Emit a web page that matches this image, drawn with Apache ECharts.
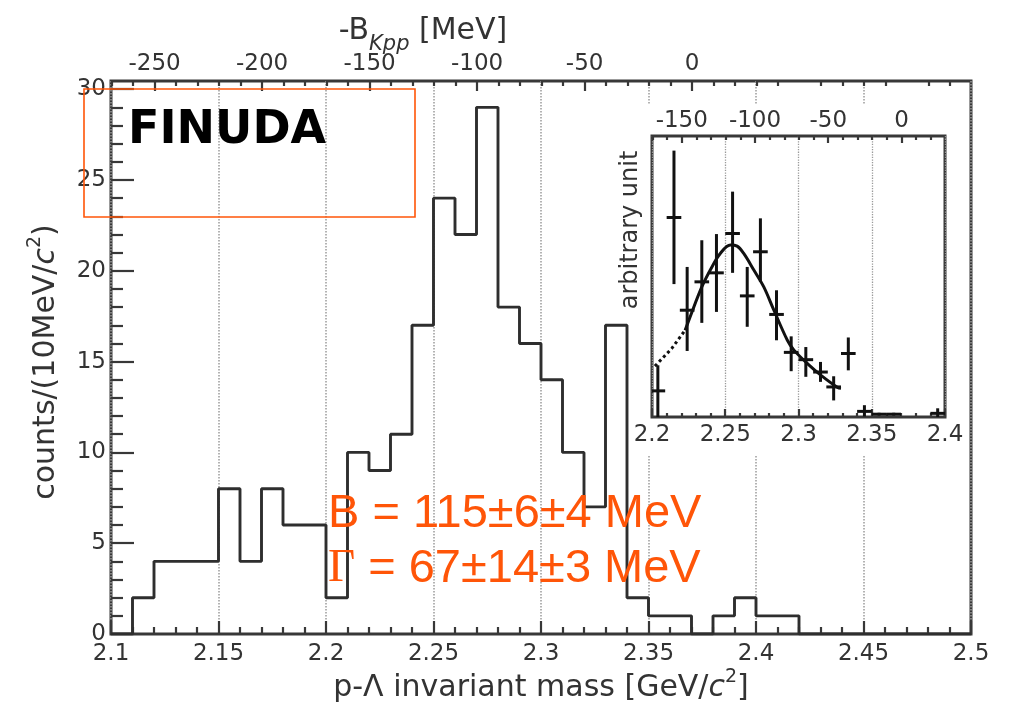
<!DOCTYPE html>
<html>
<head>
<meta charset="utf-8">
<title>FINUDA p-Λ invariant mass</title>
<script src="https://cdn.jsdelivr.net/npm/echarts@6/dist/echarts.min.js"></script>
<style>
  html, body { margin: 0; padding: 0; background: #fff; }
  #chart { width: 1009px; height: 707px; }
</style>
</head>
<body>
<div id="chart"></div>
<script>
// Main histogram: left bin edges (GeV/c^2) and counts per 10 MeV/c^2
const binLowEdges = [
  2.10, 2.11, 2.12, 2.13, 2.14, 2.15, 2.16, 2.17, 2.18, 2.19,
  2.20, 2.21, 2.22, 2.23, 2.24, 2.25, 2.26, 2.27, 2.28, 2.29,
  2.30, 2.31, 2.32, 2.33, 2.34, 2.35, 2.36, 2.37, 2.38, 2.39,
  2.40, 2.41, 2.42, 2.43, 2.44, 2.45, 2.46, 2.47, 2.48, 2.49
];
const binCounts = [
  0, 2, 4, 4, 4, 8, 4, 8, 6, 6,
  2, 10, 9, 11, 17, 24, 22, 29, 18, 16,
  14, 10, 7, 17, 2, 1, 1, 0, 1, 2,
  1, 1, 0, 0, 0, 0, 0, 0, 0, 0
];
const histUpperEdge = 2.50;

// Binding-energy scale: -B = M - (m_K + 2 m_p), threshold in GeV
const KPP_THRESHOLD = 2.3703;
const mainMeVMajor = [-250, -200, -150, -100, -50, 0];
const mainMeVMinor = [-270, -260, -240, -230, -220, -210, -190, -180, -170, -160,
  -140, -130, -120, -110, -90, -80, -70, -60, -40, -30, -20, -10,
  10, 20, 30, 40, 60, 70, 80, 90, 110, 120];
const insetMeVMajor = [-150, -100, -50, 0];
const insetMeVMinor = [-170, -160, -140, -130, -120, -110, -90, -80, -70, -60,
  -40, -30, -20, -10, 10, 20];

const countTicksMajor = [0, 5, 10, 15, 20, 25, 30];
const countTicksMinor = [1, 2, 3, 4, 6, 7, 8, 9, 11, 12, 13, 14, 16, 17, 18, 19,
  21, 22, 23, 24, 26, 27, 28, 29];

// Inset: data points (mass, value, lower error, upper error) in arbitrary units
const insetMass  = [2.204, 2.215, 2.224, 2.234, 2.244, 2.255, 2.265, 2.274, 2.285,
  2.295, 2.305, 2.315, 2.324, 2.334, 2.345, 2.355, 2.365, 2.395];
const insetValue = [9.3, 71.0, 38.0, 48.1, 51.3, 65.3, 43.1, 58.8, 36.5,
  23.0, 20.4, 16.0, 10.7, 22.6, 2.0, 1.0, 1.0, 1.3];
const insetLow   = [0.0, 47.3, 23.5, 33.5, 37.4, 51.3, 32.1, 48.1, 27.3,
  16.3, 14.3, 12.5, 5.9, 16.6, 0.2, 0.5, 0.5, 0.0];
const insetHigh  = [18.4, 94.8, 53.4, 62.9, 65.1, 80.2, 53.4, 70.7, 45.1,
  28.7, 24.9, 19.6, 14.5, 28.3, 4.2, 1.5, 1.5, 3.1];
const insetBinHalfWidth = 0.005;

// Inset fit curve: extrapolated (dotted) and fitted (solid) parts
const fitDottedMass  = [2.2020, 2.2135, 2.2226];
const fitDottedValue = [18.1, 24.4, 30.9];
const fitSolidMass  = [2.2226, 2.2260, 2.2340, 2.2409, 2.2466, 2.2535, 2.2581, 2.2626,
  2.2695, 2.2763, 2.2832, 2.2924, 2.2969, 2.3061, 2.3152, 2.3267, 2.3290];
const fitSolidValue = [30.9, 35.6, 46.3, 53.4, 58.2, 61.2, 60.8, 58.2,
  52.3, 46.3, 38.0, 27.3, 23.8, 19.0, 14.9, 10.5, 10.2];

// ---------------------------------------------------------------------------
const toMass = mev => KPP_THRESHOLD + mev / 1000;
const toMeVLabel = v => String(Math.round((v - KPP_THRESHOLD) * 1000));
const massLabel = v => String(parseFloat(v.toFixed(2)));

const histData = binLowEdges.map((x, i) => [x, binCounts[i]]);
histData.push([histUpperEdge, binCounts[binCounts.length - 1]]);

const insetPoints = insetMass.map((m, i) => [m, insetValue[i], insetLow[i], insetHigh[i]]);
const fitDotted = fitDottedMass.map((m, i) => [m, fitDottedValue[i]]);
const fitSolid = fitSolidMass.map((m, i) => [m, fitSolidValue[i]]);

const FONT = 'DejaVu Sans';
const AXIS_COLOR = '#383838';
const LABEL_COLOR = '#333';
const ORANGE = '#ff5508';

const tickStyle = { color: AXIS_COLOR, width: 2.2 };
const labelStyle = { fontFamily: FONT, fontSize: 23, color: LABEL_COLOR };

const chart = echarts.init(document.getElementById('chart'), null, { renderer: 'canvas' });

const option = {
  animation: false,
  backgroundColor: '#fff',
  grid: [
    { left: 111, top: 81, width: 860, height: 553, show: true,
      borderColor: AXIS_COLOR, borderWidth: 3, backgroundColor: 'transparent', z: 0 },
    { left: 652, top: 136, width: 293, height: 281, show: true,
      borderColor: AXIS_COLOR, borderWidth: 3, backgroundColor: '#fff', z: 3 }
  ],
  xAxis: [
    { // main mass axis
      gridIndex: 0, type: 'value', position: 'bottom', min: 2.1, max: 2.5, interval: 0.05,
      axisLine: { show: false, onZero: false },
      axisTick: { inside: true, length: 13, lineStyle: tickStyle },
      minorTick: { show: true, splitNumber: 5, length: 7, lineStyle: tickStyle },
      splitLine: { show: true, lineStyle: { type: 'dotted', color: '#9a9a9a', width: 1.5 } },
      axisLabel: Object.assign({ margin: 9, formatter: massLabel }, labelStyle)
    },
    { // main binding energy axis, major ticks
      gridIndex: 0, type: 'value', position: 'top', min: 2.1, max: 2.5,
      axisLine: { show: false, onZero: false },
      axisTick: { inside: true, length: 10, lineStyle: tickStyle, customValues: mainMeVMajor.map(toMass) },
      splitLine: { show: false },
      axisLabel: Object.assign({ margin: 5, formatter: toMeVLabel, customValues: mainMeVMajor.map(toMass) }, labelStyle)
    },
    { // main binding energy axis, minor ticks
      gridIndex: 0, type: 'value', position: 'top', min: 2.1, max: 2.5,
      axisLine: { show: false, onZero: false },
      axisTick: { inside: true, length: 5, lineStyle: tickStyle, customValues: mainMeVMinor.map(toMass) },
      splitLine: { show: false },
      axisLabel: { show: false }
    },
    { // inset mass axis
      gridIndex: 1, type: 'value', position: 'bottom', min: 2.2, max: 2.4, interval: 0.05, z: 4,
      axisLine: { show: false, onZero: false },
      axisTick: { inside: true, length: 8, lineStyle: tickStyle },
      minorTick: { show: true, splitNumber: 5, length: 4, lineStyle: tickStyle },
      splitLine: { show: true, lineStyle: { type: 'dotted', color: '#9a9a9a', width: 1.3 } },
      axisLabel: Object.assign({ margin: 7, formatter: massLabel }, labelStyle)
    },
    { // inset binding energy axis, major ticks
      gridIndex: 1, type: 'value', position: 'top', min: 2.2, max: 2.4, z: 4,
      axisLine: { show: false, onZero: false },
      axisTick: { inside: true, length: 7, lineStyle: tickStyle, customValues: insetMeVMajor.map(toMass) },
      splitLine: { show: false },
      axisLabel: Object.assign({ margin: 3, formatter: toMeVLabel, customValues: insetMeVMajor.map(toMass) }, labelStyle)
    },
    { // inset binding energy axis, minor ticks
      gridIndex: 1, type: 'value', position: 'top', min: 2.2, max: 2.4, z: 4,
      axisLine: { show: false, onZero: false },
      axisTick: { inside: true, length: 4, lineStyle: tickStyle, customValues: insetMeVMinor.map(toMass) },
      splitLine: { show: false },
      axisLabel: { show: false }
    }
  ],
  yAxis: [
    { // counts, major ticks
      gridIndex: 0, type: 'value', position: 'left', min: 0, max: 30.45,
      axisLine: { show: false, onZero: false },
      axisTick: { inside: true, length: 23, lineStyle: tickStyle, customValues: countTicksMajor },
      splitLine: { show: false },
      axisLabel: Object.assign({ margin: 5, customValues: countTicksMajor }, labelStyle)
    },
    { // counts, minor ticks
      gridIndex: 0, type: 'value', position: 'left', min: 0, max: 30.45,
      axisLine: { show: false, onZero: false },
      axisTick: { inside: true, length: 12, lineStyle: tickStyle, customValues: countTicksMinor },
      splitLine: { show: false },
      axisLabel: { show: false }
    },
    { // inset arbitrary units
      gridIndex: 1, type: 'value', position: 'left', min: 0, max: 100, z: 4,
      axisLine: { show: false, onZero: false },
      axisTick: { show: false },
      splitLine: { show: false },
      axisLabel: { show: false }
    }
  ],
  series: [
    {
      name: 'p-Λ counts', type: 'line', xAxisIndex: 0, yAxisIndex: 0,
      step: 'end', data: histData, symbol: 'none', clip: true, z: 2,
      lineStyle: { color: '#2e2e2e', width: 2.9 }
    },
    {
      name: 'fit (extrapolated)', type: 'line', xAxisIndex: 3, yAxisIndex: 2,
      data: fitDotted, symbol: 'none', z: 6,
      lineStyle: { color: '#111', width: 3, type: 'dotted' }
    },
    {
      name: 'fit', type: 'line', xAxisIndex: 3, yAxisIndex: 2,
      data: fitSolid, symbol: 'none', smooth: 0.35, z: 6,
      lineStyle: { color: '#111', width: 3 }
    },
    {
      name: 'inset data', type: 'custom', xAxisIndex: 3, yAxisIndex: 2,
      data: insetPoints, clip: true, z: 7,
      encode: { x: 0, y: 1 },
      renderItem: function (params, api) {
        const m = api.value(0), v = api.value(1), lo = api.value(2), hi = api.value(3);
        const left = api.coord([m - insetBinHalfWidth, v]);
        const right = api.coord([m + insetBinHalfWidth, v]);
        const top = api.coord([m, hi]);
        const bottom = api.coord([m, lo]);
        const style = { stroke: '#111', lineWidth: 3 };
        return {
          type: 'group',
          children: [
            { type: 'line', shape: { x1: left[0], y1: left[1], x2: right[0], y2: right[1] }, style: style },
            { type: 'line', shape: { x1: top[0], y1: top[1], x2: bottom[0], y2: bottom[1] }, style: style }
          ]
        };
      }
    }
  ],
  graphic: {
    elements: [
      { // white panel behind the inset
        type: 'rect', z: 1, silent: true,
        shape: { x: 630, y: 104, width: 337, height: 351 },
        style: { fill: '#fff' }
      },
      {
        type: 'rect', z: 10, silent: true,
        shape: { x: 84, y: 89, width: 331, height: 128 },
        style: { fill: 'none', stroke: ORANGE, lineWidth: 1.6 }
      },
      {
        type: 'text', z: 10, x: 128, y: 131,
        style: { text: 'FINUDA', font: 'bold 46px "DejaVu Sans"', fill: '#000',
          align: 'left', verticalAlign: 'middle', textAlign: 'left', textVerticalAlign: 'middle' }
      },
      {
        type: 'text', z: 10, x: 328, y: 514,
        style: { text: 'B = 115±6±4 MeV', font: '47px "Liberation Sans"', fill: ORANGE,
          align: 'left', verticalAlign: 'middle', textAlign: 'left', textVerticalAlign: 'middle' }
      },
      {
        type: 'text', z: 10, x: 328, y: 569,
        style: {
          text: '{g|Γ}{t| = 67±14±3 MeV}',
          align: 'left', verticalAlign: 'middle', textAlign: 'left', textVerticalAlign: 'middle',
          rich: {
            g: { fontFamily: 'Liberation Serif', fontSize: 47, fill: ORANGE, color: ORANGE },
            t: { fontFamily: 'Liberation Sans', fontSize: 47, fill: ORANGE, color: ORANGE }
          }
        }
      },
      { // top axis title
        type: 'text', z: 10, x: 423, y: 31,
        style: {
          text: '{a|-B}{b|Kpp}{a| [MeV]}',
          align: 'center', verticalAlign: 'middle', textAlign: 'center', textVerticalAlign: 'middle',
          rich: {
            a: { fontFamily: FONT, fontSize: 30, lineHeight: 48, verticalAlign: 'middle', fill: LABEL_COLOR, color: LABEL_COLOR },
            b: { fontFamily: FONT, fontStyle: 'italic', fontSize: 21, lineHeight: 21, verticalAlign: 'bottom', fill: LABEL_COLOR, color: LABEL_COLOR }
          }
        }
      },
      { // bottom axis title
        type: 'text', z: 10, x: 541, y: 688,
        style: {
          text: '{a|p-Λ invariant mass [GeV/}{i|c}{s|2}{a|]}',
          align: 'center', verticalAlign: 'middle', textAlign: 'center', textVerticalAlign: 'middle',
          rich: {
            a: { fontFamily: FONT, fontSize: 30, lineHeight: 40, verticalAlign: 'middle', fill: LABEL_COLOR, color: LABEL_COLOR },
            i: { fontFamily: FONT, fontStyle: 'italic', fontSize: 30, lineHeight: 40, verticalAlign: 'middle', fill: LABEL_COLOR, color: LABEL_COLOR },
            s: { fontFamily: FONT, fontSize: 19, lineHeight: 19, verticalAlign: 'top', fill: LABEL_COLOR, color: LABEL_COLOR }
          }
        }
      },
      { // left axis title
        type: 'text', z: 10, x: 46, y: 362, rotation: Math.PI / 2,
        style: {
          text: '{a|counts/(10MeV/}{i|c}{s|2}{a|)}',
          align: 'center', verticalAlign: 'middle', textAlign: 'center', textVerticalAlign: 'middle',
          rich: {
            a: { fontFamily: FONT, fontSize: 30, lineHeight: 40, verticalAlign: 'middle', fill: LABEL_COLOR, color: LABEL_COLOR },
            i: { fontFamily: FONT, fontStyle: 'italic', fontSize: 30, lineHeight: 40, verticalAlign: 'middle', fill: LABEL_COLOR, color: LABEL_COLOR },
            s: { fontFamily: FONT, fontSize: 19, lineHeight: 19, verticalAlign: 'top', fill: LABEL_COLOR, color: LABEL_COLOR }
          }
        }
      },
      { // inset y title
        type: 'text', z: 10, x: 631, y: 230, rotation: Math.PI / 2,
        style: { text: 'arbitrary unit', font: '24px "DejaVu Sans"', fill: LABEL_COLOR,
          align: 'center', verticalAlign: 'middle', textAlign: 'center', textVerticalAlign: 'middle' }
      }
    ]
  }
};

chart.setOption(option);
</script>
</body>
</html>
